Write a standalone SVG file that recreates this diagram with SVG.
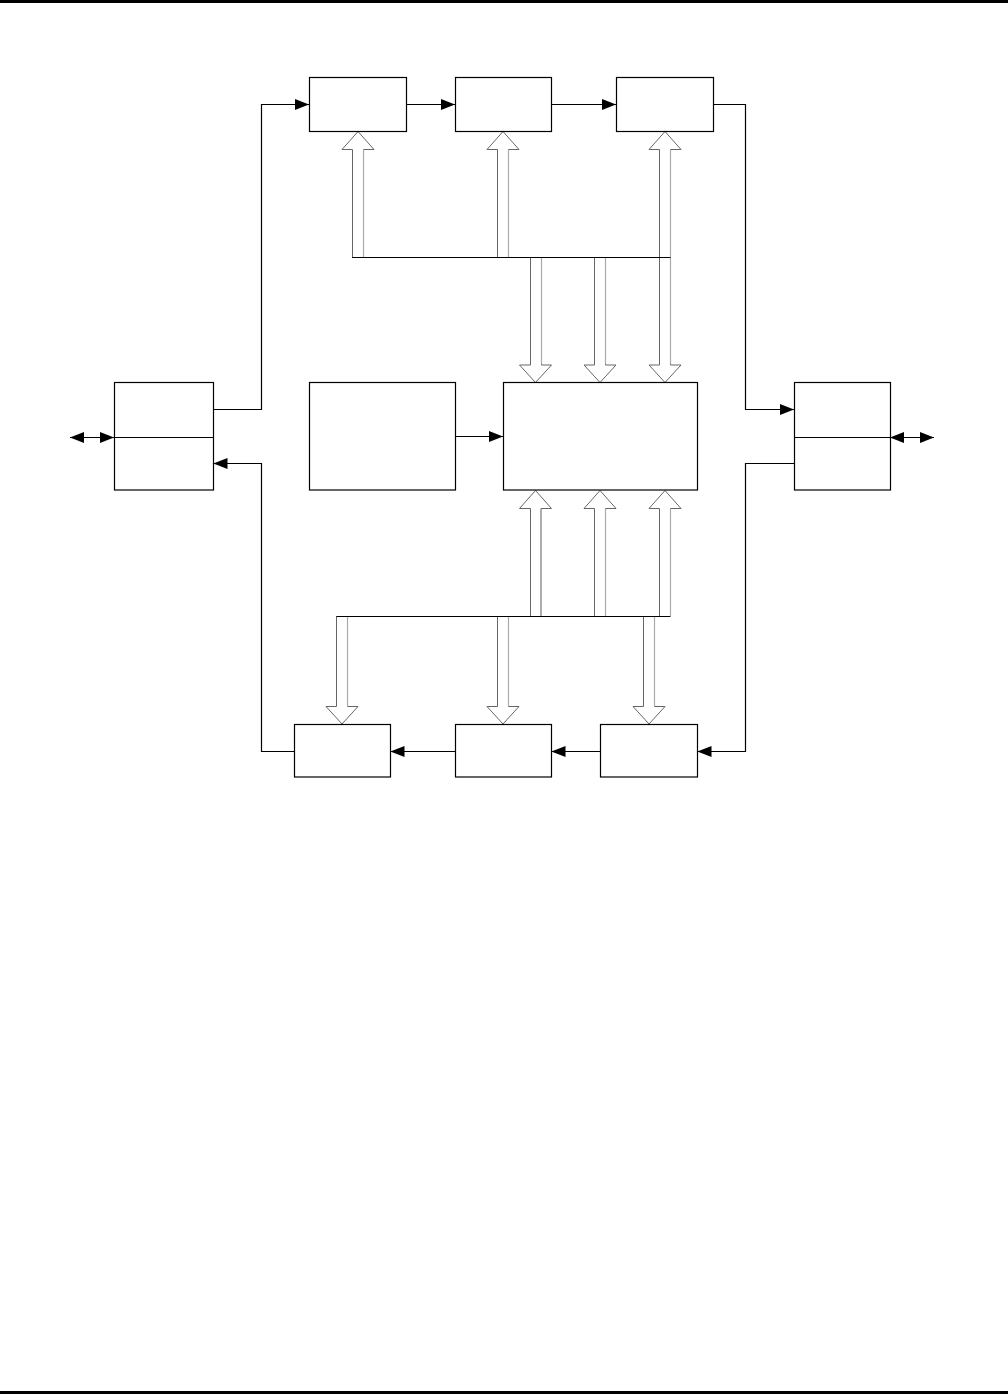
<svg xmlns="http://www.w3.org/2000/svg" width="1008" height="1394" viewBox="0 0 1008 1394">
<style>
.box{fill:#fff;stroke:#000;stroke-width:1.2}
.ln{fill:none;stroke:#000;stroke-width:1.2}
.bus{fill:#fff;stroke:#666;stroke-width:1}
.lt{fill:none;stroke:#aaa;stroke-width:1.2}
</style>
<defs>
<marker id="ah" viewBox="0 0 14 11" refX="14" refY="5.5" markerWidth="14" markerHeight="11" markerUnits="userSpaceOnUse" orient="auto-start-reverse">
<path d="M0,0 L14,5.5 L0,11 Z" fill="#000"/>
</marker>
</defs>
<rect x="0" y="0" width="1008" height="3" fill="#000"/>
<rect x="0" y="1391" width="1008" height="3" fill="#000"/>
<g id="connectors">
<!-- top chain -->
<path class="ln" d="M406.5,104.5 H455" marker-end="url(#ah)"/>
<path class="ln" d="M551.5,104.5 H616" marker-end="url(#ah)"/>
<path class="ln" d="M713.5,104.5 H745.5 V409.5 H794" marker-end="url(#ah)"/>
<path class="ln" d="M213.5,409.5 H261.5 V104.5 H309" marker-end="url(#ah)"/>
<!-- bottom chain -->
<path class="ln" d="M794,463.5 H745.5 V751.5 H697.5" marker-end="url(#ah)"/>
<path class="ln" d="M600.5,751.5 H551.5" marker-end="url(#ah)"/>
<path class="ln" d="M455.5,751.5 H390.5" marker-end="url(#ah)"/>
<path class="ln" d="M294.5,751.5 H261.5 V463.5 H213.5" marker-end="url(#ah)"/>
<!-- middle -->
<path class="ln" d="M455.5,436.5 H503" marker-end="url(#ah)"/>
<!-- external double arrows -->
<path class="ln" d="M70,437.5 H114" marker-start="url(#ah)" marker-end="url(#ah)"/>
<path class="ln" d="M890,437.5 H934" marker-start="url(#ah)" marker-end="url(#ah)"/>
<!-- top bus: up arrows to top boxes -->
<path class="bus" d="M352.5,257 V149.5 H342 L358,131.5 L374,149.5 H363.5 V257"/>
<path class="lt" d="M363.5,150 V257"/>
<path class="bus" d="M497.5,257 V149.5 H487 L503,131.5 L519,149.5 H508.5 V257"/>
<path class="lt" d="M508.5,150 V257"/>
<path class="bus" d="M659.5,257 V149.5 H649 L665,131.5 L681,149.5 H670.5 V257"/>
<path class="lt" d="M670.5,150 V257"/>
<!-- top bus: down arrows into middle box -->
<path class="bus" d="M530.5,257 V365 H519.5 L535.5,382.5 L551.5,365 H541.5 V257"/>
<path class="lt" d="M541.5,257 V364"/>
<path class="bus" d="M594.5,257 V365 H584 L600,382.5 L616,365 H605.5 V257"/>
<path class="lt" d="M605.5,257 V364"/>
<path class="bus" d="M659.5,257 V365 H649 L665,382.5 L681,365 H670.5 V257"/>
<path class="lt" d="M670.5,257 V364"/>
<path class="ln" d="M352,257.5 H670.5"/>
<!-- bottom bus: up arrows into middle box -->
<path class="bus" d="M530.5,616 V508.5 H519.5 L535.5,490.5 L551.5,508.5 H541 V616"/>
<path class="lt" d="M541,509 V616"/>
<path class="bus" d="M594.5,616 V508.5 H584 L600,490.5 L616,508.5 H605.5 V616"/>
<path class="lt" d="M605.5,509 V616"/>
<path class="bus" d="M659.5,616 V508.5 H649 L665,490.5 L681,508.5 H670.5 V616"/>
<path class="lt" d="M670.5,509 V616"/>
<!-- bottom bus: down arrows into bottom boxes -->
<path class="bus" d="M336.5,616 V706.5 H326 L342,724 L358,706.5 H347.5 V616"/>
<path class="lt" d="M347.5,616 V706"/>
<path class="bus" d="M497.5,616 V706.5 H487 L503,724 L519,706.5 H508.5 V616"/>
<path class="lt" d="M508.5,616 V706"/>
<path class="bus" d="M643.5,616 V706.5 H633 L649,724 L665,706.5 H654.5 V616"/>
<path class="lt" d="M654.5,616 V706"/>
<path class="ln" d="M336.5,616.5 H670.5"/>
</g>
<g id="top1"><rect class="box" x="309.5" y="77.5" width="97" height="54"/></g>
<g id="top2"><rect class="box" x="455.5" y="77.5" width="96" height="54"/></g>
<g id="top3"><rect class="box" x="616.5" y="77.5" width="97" height="54"/></g>
<g id="left"><rect class="box" x="114.5" y="382.5" width="99" height="107.5"/><path class="ln" d="M114.5,437.5 H213.5"/></g>
<g id="right"><rect class="box" x="794.5" y="382.5" width="96" height="107.5"/><path class="ln" d="M794.5,437.5 H890.5"/></g>
<g id="mid-left"><rect class="box" x="309.5" y="382.5" width="146" height="107.5"/></g>
<g id="center"><rect class="box" x="503.5" y="382.5" width="194" height="107.5"/></g>
<g id="bot1"><rect class="box" x="294.5" y="724.5" width="96" height="52.5"/></g>
<g id="bot2"><rect class="box" x="455.5" y="724.5" width="96" height="52.5"/></g>
<g id="bot3"><rect class="box" x="600.5" y="724.5" width="97" height="52.5"/></g>
</svg>
